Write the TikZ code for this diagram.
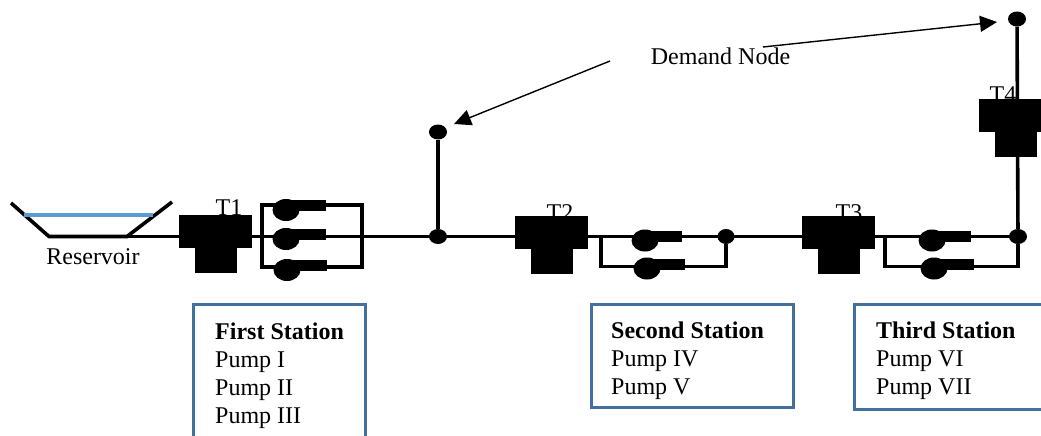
\documentclass[tikz,border=0pt]{standalone}
\usepackage{fontspec}
\setmainfont{Liberation Serif}
\usetikzlibrary{shapes.geometric, arrows.meta}
\definecolor{boxblue}{HTML}{41719C}
\definecolor{waterblue}{HTML}{5B9BD5}
\tikzset{
    pipe/.style={line width=3.6pt, black},
    junction/.style={ellipse, fill=black, inner sep=0pt, minimum width=18pt, minimum height=15pt},
    teetop/.style={rectangle, fill=black, inner sep=0pt, minimum width=73pt, minimum height=33pt},
    teelow/.style={rectangle, fill=black, inner sep=0pt, minimum width=42pt, minimum height=25pt},
    pumpbody/.style={ellipse, fill=black, inner sep=0pt, minimum width=27pt, minimum height=22pt},
    pumpneck/.style={rectangle, fill=black, inner sep=0pt, minimum height=11pt, anchor=west},
    label/.style={inner sep=0pt, font=\fontsize{24}{28}\selectfont},
    infobox/.style={draw=boxblue, line width=3pt},
    infotext/.style={inner sep=0pt, anchor=north west, align=left, font=\fontsize{24}{28}\selectfont}
}
\begin{document}
\begin{tikzpicture}[x=1pt, y=-1pt]
    \clip (0,0) rectangle (1041,436);

    % reservoir
    \coordinate (resa) at (11,203);
    \coordinate (resb) at (49,236.5);
    \coordinate (resc) at (127,236.5);
    \coordinate (resd) at (172,202);
    \coordinate (wata) at (24,215);
    \coordinate (watb) at (153,215);
    \draw[pipe] (resa) -- (resb) -- (resc) -- (resd);
    \draw[line width=3.6pt, waterblue] (wata) -- (watb);
    \node[label] (reslabel) at (93,257) {Reservoir};

    % labels of the tees sit behind the blocks
    \foreach \n / \x / \y in {1/229/208, 2/560/213, 3/849/213, 4/1003/95}
        {
            \node[label] (tlabel\n) at (\x, \y) {T\n};
        }

    % junctions
    \node[junction] (dem1) at (438,132) {};
    \node[junction] (jun1) at (438,236.5) {};
    \node[junction] (dem2) at (1017,19) {};
    \node[junction, minimum width=17pt] (jun2) at (726,236.5) {};
    \node[junction] (jun3) at (1018,236.5) {};

    % main line and stems
    \draw[pipe] (resb) -- (jun1.center) -- (jun2.center) -- (jun3.center);
    \draw[pipe] (dem1) -- (jun1);
    \draw[pipe] (dem2) -- (jun3);

    % bypass loops
    \coordinate (loopa) at (262,205);
    \coordinate (loopb) at (362,267);
    \draw[pipe] (loopa) rectangle (loopb);
    \coordinate (loopc) at (601,236.5);
    \coordinate (loopd) at (885,236.5);
    \draw[pipe] (loopc) -- ++(0,30) -| (jun2);
    \draw[pipe] (loopd) -- ++(0,30) -| (jun3);

    % tees
    \foreach \n / \x / \y in {1/215.5/231, 2/551.5/232, 3/838.5/232, 4/1015.5/115}
        {
            \node[teetop] (teetop\n) at (\x, \y) {};
            \node[teelow, below=0pt] (teelow\n) at (teetop\n.south) {};
        }

    % pumps
    \foreach \n / \x / \y / \l in {1/286/210/40, 2/286/239/40, 3/287/270/40,
                                   4/645/240.5/37, 5/647/268.5/38,
                                   6/932/240.5/39, 7/934/268.5/40}
        {
            \node[pumpbody] (pump\n) at (\x, \y) {};
            \node[pumpneck, minimum width=\l pt] (neck\n) at (\x, \y-4.5) {};
        }

    % demand arrows
    \node[label] (demand) at (720.5,56) {Demand Node};
    \coordinate (arra) at (610,61);
    \coordinate (arrb) at (454,124);
    \coordinate (arrc) at (763,47);
    \coordinate (arrd) at (997,22);
    \draw[line width=1.4pt, -{Triangle[length=17pt, width=16pt]}] (arra) -- (arrb);
    \draw[line width=1.4pt, -{Triangle[length=17pt, width=16pt]}] (arrc) -- (arrd);

    % station boxes
    \draw[infobox] (193,304) rectangle (365,450);
    \draw[infobox] (591,304) rectangle (793,407);
    \draw[infobox] (854,304) rectangle (1060,409);
    \node[infotext] (station1) at (215,323) {\textbf{First Station}\\Pump I\\Pump II\\Pump III};
    \node[infotext] (station2) at (611,322) {\textbf{Second Station}\\Pump IV\\Pump V};
    \node[infotext] (station3) at (876,322) {\textbf{Third Station}\\Pump VI\\Pump VII};
\end{tikzpicture}
\end{document}
